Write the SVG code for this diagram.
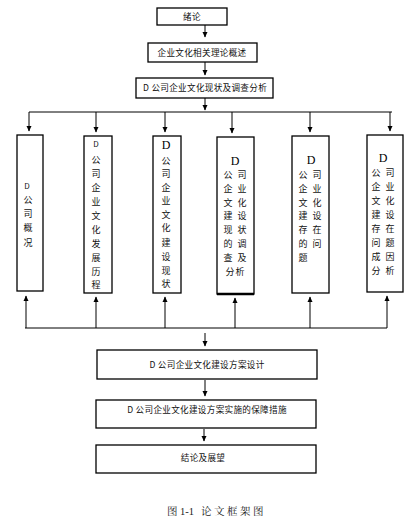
<svg xmlns="http://www.w3.org/2000/svg" width="417" height="524" viewBox="0 0 417 524">
<style>
.b{fill:#fff;stroke:#000;stroke-width:1.3}
.t{font-family:"Noto Sans CJK SC","Noto Sans",sans-serif;font-size:8.6px;fill:#111;text-anchor:middle;letter-spacing:0.3px}
.v{font-family:"Noto Sans CJK SC","Noto Sans",sans-serif;font-size:9px;fill:#111;text-anchor:middle}
.d{font-family:"Liberation Serif",serif;font-size:12px;fill:#000;text-anchor:middle}
.l{stroke:#000;stroke-width:1;fill:none}
.cap{font-family:"Liberation Serif","Noto Serif CJK SC","Noto Sans CJK SC",serif;font-size:10.5px;fill:#222}
</style>
<defs>
<marker id="a" markerWidth="6" markerHeight="6" refX="5" refY="3" orient="auto" markerUnits="userSpaceOnUse">
<path d="M0,0.5 L5.5,3 L0,5.5 z" fill="#000"/>
</marker>
</defs>
<g id="connectors">
<path class="l" d="M205,25 V37" marker-end="url(#a)"/>
<path class="l" d="M205,62 V75" marker-end="url(#a)"/>
<path class="l" d="M205,98 V110" marker-end="url(#a)"/>
<path class="l" d="M29,112 H392"/>
<path class="l" d="M29,112 V131" marker-end="url(#a)"/>
<path class="l" d="M96,112 V132" marker-end="url(#a)"/>
<path class="l" d="M165,112 V132" marker-end="url(#a)"/>
<path class="l" d="M232,112 V133" marker-end="url(#a)"/>
<path class="l" d="M310,112 V132" marker-end="url(#a)"/>
<path class="l" d="M390,112 V131" marker-end="url(#a)"/>
<path class="l" d="M25,328 H387"/>
<path class="l" d="M26,328 V296" marker-end="url(#a)"/>
<path class="l" d="M96,328 V297" marker-end="url(#a)"/>
<path class="l" d="M165,328 V297" marker-end="url(#a)"/>
<path class="l" d="M235,328 V298" marker-end="url(#a)"/>
<path class="l" d="M310,328 V297" marker-end="url(#a)"/>
<path class="l" d="M387,328 V296" marker-end="url(#a)"/>
<path class="l" d="M205,333 V346" marker-end="url(#a)"/>
<path class="l" d="M205,380 V396" marker-end="url(#a)"/>
<path class="l" d="M204,429 V441" marker-end="url(#a)"/>
</g>
<g id="n1"><rect class="b" x="157" y="8" width="70" height="17"/><text class="t" x="192" y="20">绪论</text></g>
<g id="n2"><rect class="b" x="148" y="43" width="109" height="19"/><text class="t" x="202" y="56">企业文化相关理论概述</text></g>
<g id="n3"><rect class="b" x="136" y="78" width="137" height="20"/><text class="t" x="205" y="91">D 公司企业文化现状及调查分析</text></g>
<g id="c1"><rect class="b" x="17" y="135" width="26" height="156"/>
<text class="v"><tspan x="27" y="189" style="font-size:8px">D</tspan><tspan x="28" y="203">公</tspan><tspan x="28" y="217">司</tspan><tspan x="28" y="231">概</tspan><tspan x="28" y="246">况</tspan></text></g>
<g id="c2"><rect class="b" x="84" y="136" width="28" height="157"/>
<text class="v"><tspan x="96" y="147" style="font-size:8px">D</tspan><tspan x="96" y="163">公</tspan><tspan x="96" y="177">司</tspan><tspan x="96" y="191">企</tspan><tspan x="96" y="205">业</tspan><tspan x="96" y="219">文</tspan><tspan x="96" y="233">化</tspan><tspan x="96" y="247">发</tspan><tspan x="96" y="261">展</tspan><tspan x="96" y="275">历</tspan><tspan x="96" y="288">程</tspan></text></g>
<g id="c3"><rect class="b" x="153" y="136" width="28" height="157"/>
<text class="d" x="166" y="149">D</text>
<text class="v"><tspan x="166" y="164">公</tspan><tspan x="166" y="177">司</tspan><tspan x="166" y="191">企</tspan><tspan x="166" y="204">业</tspan><tspan x="166" y="218">文</tspan><tspan x="166" y="231">化</tspan><tspan x="166" y="246">建</tspan><tspan x="166" y="260">设</tspan><tspan x="166" y="274">现</tspan><tspan x="166" y="287">状</tspan></text></g>
<g id="c4"><rect class="b" x="217" y="137" width="37" height="157"/><path d="M217,294 H254" stroke="#000" stroke-width="2.5"/>
<text class="d" x="235" y="165">D</text>
<text class="v"><tspan x="228" y="178">公</tspan><tspan x="242" y="178">司</tspan><tspan x="228" y="192">企</tspan><tspan x="242" y="192">业</tspan><tspan x="228" y="206">文</tspan><tspan x="242" y="206">化</tspan><tspan x="228" y="219">建</tspan><tspan x="242" y="219">设</tspan><tspan x="228" y="233">现</tspan><tspan x="242" y="233">状</tspan><tspan x="228" y="247">的</tspan><tspan x="242" y="247">调</tspan><tspan x="228" y="261">查</tspan><tspan x="242" y="261">及</tspan><tspan x="230" y="275">分</tspan><tspan x="240" y="275">析</tspan></text></g>
<g id="c5"><rect class="b" x="292" y="136" width="37" height="157"/>
<text class="d" x="311" y="164">D</text>
<text class="v"><tspan x="303" y="178">公</tspan><tspan x="317" y="178">司</tspan><tspan x="303" y="192">企</tspan><tspan x="317" y="192">业</tspan><tspan x="303" y="206">文</tspan><tspan x="317" y="206">化</tspan><tspan x="303" y="219">建</tspan><tspan x="317" y="219">设</tspan><tspan x="303" y="233">存</tspan><tspan x="317" y="233">在</tspan><tspan x="303" y="247">的</tspan><tspan x="317" y="247">问</tspan><tspan x="303" y="261">题</tspan></text></g>
<g id="c6"><rect class="b" x="367" y="135" width="36" height="157"/>
<text class="d" x="383" y="162">D</text>
<text class="v"><tspan x="376" y="176">公</tspan><tspan x="390" y="176">司</tspan><tspan x="376" y="190">企</tspan><tspan x="390" y="190">业</tspan><tspan x="376" y="204">文</tspan><tspan x="390" y="204">化</tspan><tspan x="376" y="218">建</tspan><tspan x="390" y="218">设</tspan><tspan x="376" y="232">存</tspan><tspan x="390" y="232">在</tspan><tspan x="376" y="246">问</tspan><tspan x="390" y="246">题</tspan><tspan x="376" y="260">成</tspan><tspan x="390" y="260">因</tspan><tspan x="376" y="274">分</tspan><tspan x="390" y="274">析</tspan></text></g>
<g id="n4"><rect class="b" x="97" y="350" width="220" height="29"/><text class="t" x="207" y="368">D 公司企业文化建设方案设计</text></g>
<g id="n5"><rect class="b" x="96" y="400" width="220" height="28"/><text class="t" x="207" y="413">D 公司企业文化建设方案实施的保障措施</text></g>
<g id="n6"><rect class="b" x="96" y="445" width="220" height="28"/><text class="t" x="203" y="461">结论及展望</text></g>
<text class="cap" x="167" y="515">图 1-1<tspan x="201" style="letter-spacing:2.5px">论文框架图</tspan></text>
</svg>
